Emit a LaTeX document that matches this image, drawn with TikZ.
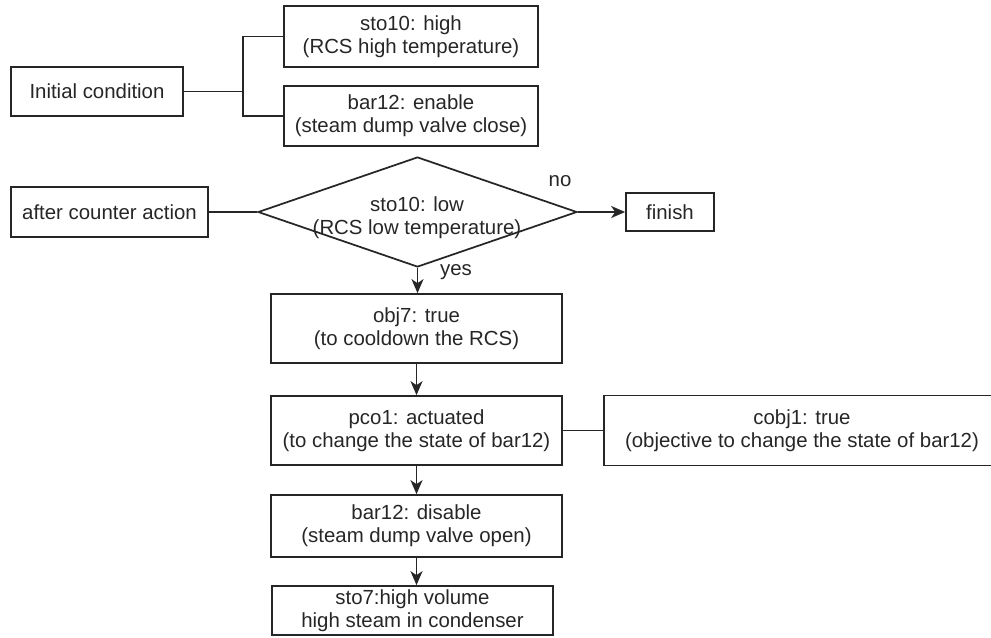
\documentclass[tikz,border=0pt]{standalone}
\usepackage{fontspec}
\setmainfont{Liberation Sans}
\usetikzlibrary{shapes.geometric,arrows.meta}
\begin{document}
\begin{tikzpicture}[x=0.75pt,y=-0.75pt,
  font=\fontsize{15.3}{17.3}\selectfont,
  line width=1.3pt,
  bx/.style 2 args={draw=black!85, line width=1.3pt, rectangle, align=center, inner sep=0pt,
    minimum width=#1*0.75pt, minimum height=#2*0.75pt, text=black!85},
  conn/.style={draw=black!85, line width=1.3pt},
  arr/.style={conn, -{Stealth[length=10.5pt,width=9pt,inset=3pt]}},
  lbl/.style={inner sep=0pt, text=black!85, align=center}]
\useasboundingbox (0,0) rectangle (991,637);

% top group
\node[bx={172}{49}] (init) at (97,91.5) {Initial condition};
\node[bx={254}{61}] (hi) at (411,36.5) {sto10: high\\(RCS high temperature)};
\node[bx={254}{60}] (en) at (411,116) {bar12: enable\\(steam dump valve close)};
\coordinate (jt) at (243,36.5);
\coordinate (jb) at (243,116);
\draw[conn] (hi.west) -- (jt) -- (jb) -- (en.west);
\draw[conn] (init.east) -- (init.east -| jt);

% decision row
\node[bx={197}{50}] (after) at (109.5,212) {after counter action};
\node[draw=black!85, line width=1.3pt, diamond, inner sep=0pt,
  minimum width=319*0.75pt, minimum height=110*0.75pt] (dec) at (417.5,212) {};
\node[lbl] (dtxt) at (417,218) {sto10: low\\(RCS low temperature)};
\node[bx={88}{38}] (fin) at (670,212) {finish};
\draw[conn] (after.east) -- (dec.west);
\draw[arr] (dec.east) -- (fin.west);
\node[lbl] (no) at (560,181) {no};
\node[lbl] (yes) at (456,272) {yes};

% vertical chain
\node[bx={291}{69}] (obj) at (416.5,328.5) {obj7: true\\(to cooldown the RCS)};
\node[bx={291}{69}] (pco) at (416.5,430.5) {pco1: actuated\\(to change the state of bar12)};
\node[bx={396}{70}] (cobj) at (802,430.5) {cobj1: true\\(objective to change the state of bar12)};
\node[bx={291}{62}] (dis) at (416.5,526) {bar12: disable\\(steam dump valve open)};
\node[bx={281}{49}] (sto) at (412.5,610.5) {sto7:high volume\\high steam in condenser};

\draw[arr] (dec.south) -- (dec.south |- obj.north);
\draw[arr] (obj.south) -- (pco.north);
\draw[conn] (pco.east) -- (pco.east -| cobj.west);
\draw[arr] (pco.south) -- (dis.north);
\draw[arr] (dis.south) -- (dis.south |- sto.north);
\end{tikzpicture}
\end{document}
